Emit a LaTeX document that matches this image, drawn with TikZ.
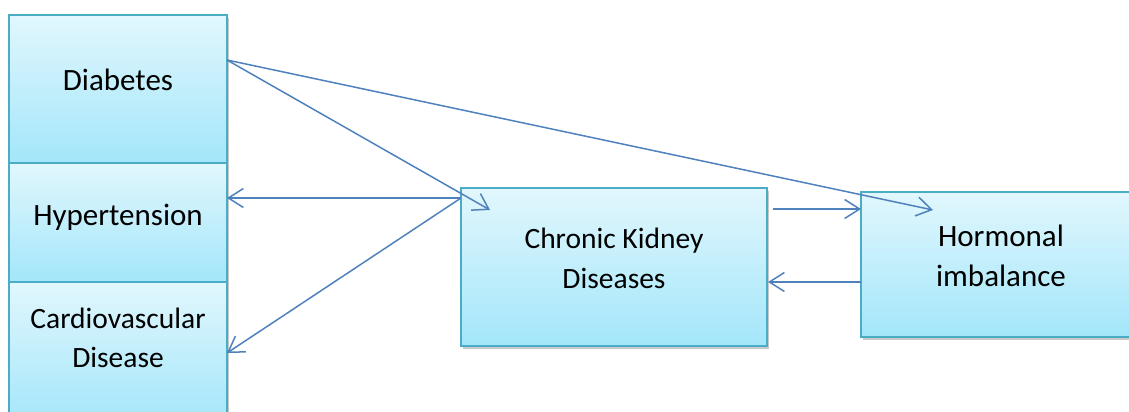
\documentclass[tikz,border=0pt]{standalone}
\usepackage{fontspec}
\setmainfont{Carlito}
\usetikzlibrary{positioning,arrows.meta,shadows}
\definecolor{boxtop}{HTML}{E1F7FD}
\definecolor{boxbot}{HTML}{A3E6FA}
\definecolor{boxline}{HTML}{4BACC6}
\definecolor{arrowblue}{HTML}{4F81BD}
\tikzset{
  >={Straight Barb[length=15pt,width=19pt]},
}

\begin{document}
\begin{tikzpicture}[
  x=1pt,y=-1pt,
  box/.style={draw=boxline, line width=1.5pt, top color=boxtop, bottom color=boxbot,
    outer sep=0pt, inner sep=0pt,
    drop shadow={shadow xshift=2pt,shadow yshift=-3pt,opacity=0.3,fill=black!70}},
  txt/.style={align=center, font=\fontsize{31}{39.5}\selectfont, inner sep=0pt},
  smalltxt/.style={txt, font=\fontsize{29.5}{39.5}\selectfont},
  link/.style={->, draw=arrowblue, line width=1.5pt}
]
\clip (0,0) rectangle (1129,412);

% left column
\node[box, minimum width=218pt, minimum height=148pt] (diab) at (118,89) {};
\node[box, minimum width=218pt, minimum height=119pt, below=0pt of diab] (hyp) {};
\node[box, minimum width=218pt, minimum height=142pt, below=0pt of hyp] (cvd) {};

% right boxes
\node[box, minimum width=306pt, minimum height=158pt] (ckd) at (614,267) {};
\node[box, minimum width=280pt, minimum height=145pt] (horm) at (1001,264.5) {};

% texts
\node[txt] (diabT) at ([yshift=9pt]diab.center) {Diabetes};
\node[txt] (hypT) at ([yshift=5.5pt]hyp.center) {Hypertension};
\node[smalltxt] (cvdT) at ([yshift=15pt]cvd.center) {Cardiovascular\\Disease};
\node[smalltxt] (ckdT) at ([yshift=8.5pt]ckd.center) {Chronic Kidney\\Diseases};
\node[txt] (hormT) at ([yshift=8.5pt]horm.center) {Hormonal\\imbalance};

% arrows
\coordinate (dOut) at ([yshift=29pt]diab.east);
\coordinate (ckdIn) at ([yshift=-10pt]ckd.north west);
\coordinate (ckdHead) at ([xshift=29pt,yshift=-22pt]ckd.north west);
\coordinate (hormHead) at ([xshift=72pt,yshift=-18pt]horm.north west);
\coordinate (ckdOut) at ([xshift=6pt,yshift=-21pt]ckd.north east);
\coordinate (ckdBack) at ([xshift=1pt,yshift=-15pt]ckd.east);

\draw[link] (dOut) -- (ckdHead);
\draw[link] (dOut) -- (hormHead);
\draw[link] (ckdIn) -- (hyp.east |- ckdIn);
\draw[link] (ckdIn) -- (cvd.east);
\draw[link] (ckdOut) -- (horm.west |- ckdOut);
\draw[link] (horm.west |- ckdBack) -- (ckdBack);

\end{tikzpicture}
\end{document}
